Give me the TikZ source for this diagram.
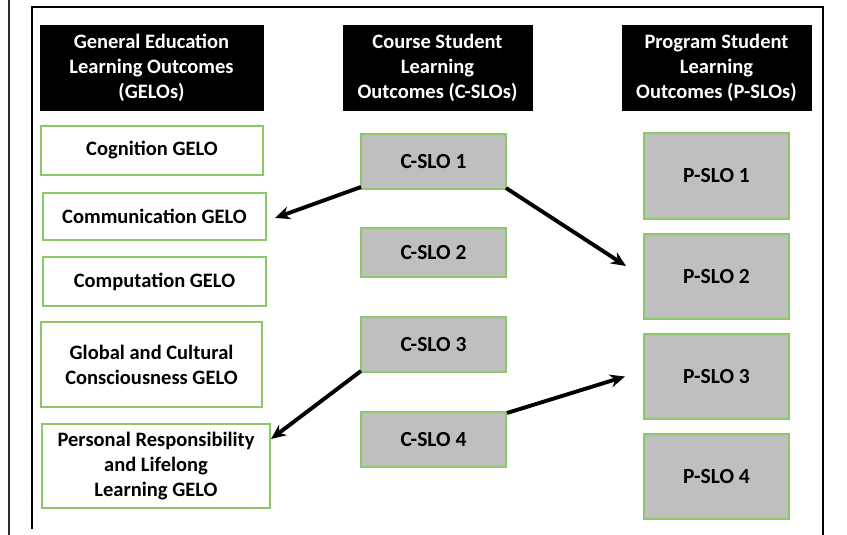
\documentclass[tikz,border=0pt]{standalone}
\usepackage{fontspec}
\setmainfont{Carlito}
\usetikzlibrary{arrows.meta,calc}

\definecolor{boxgreen}{RGB}{140,200,105}
\definecolor{slogray}{RGB}{191,191,191}
\definecolor{rulegray}{RGB}{45,45,45}

\tikzset{
  heading/.style={fill=black, draw=black, text=white, inner sep=0pt, outer sep=0pt,
    align=center, font=\fontsize{20.5}{25}\selectfont\bfseries},
  gelobox/.style={fill=white, draw=boxgreen, line width=1.4pt, inner sep=0pt, outer sep=0pt,
    align=center, font=\fontsize{20.5}{25}\selectfont\bfseries},
  slobox/.style={fill=slogray, draw=boxgreen, line width=1.4pt, inner sep=0pt, outer sep=0pt,
    align=center, font=\fontsize{21.5}{26}\selectfont\bfseries},
  link/.style={line width=3.9pt, -{Stealth[length=15pt,width=13pt]}},
}

\begin{document}
\begin{tikzpicture}[x=1pt, y=-1pt]
\useasboundingbox (0,0) rectangle (847,535);

% page rules
\draw[rulegray, line width=1.6pt] (9,0) -- (9,535);
\draw[black, line width=2pt] (32,529) -- (32,7) -- (823,7) -- (823,535);

% column headings
\node[heading, minimum width=223, minimum height=85] (hg) at (151.5,67.5)
  {General Education\\Learning Outcomes\\(GELOs)};
\node[heading, minimum width=189, minimum height=85] (hc) at (437.5,67.5)
  {Course Student\\Learning\\Outcomes (C-SLOs)};
\node[heading, minimum width=189, minimum height=85] (hp) at (716.5,67.5)
  {Program Student\\Learning\\Outcomes (P-SLOs)};

% general education outcomes
\node[gelobox, minimum width=222, minimum height=49] (g1) at (152,150.5) {Cognition GELO};
\node[gelobox, minimum width=223, minimum height=47] (g2) at (154.5,216.5) {Communication GELO};
\node[gelobox, minimum width=223, minimum height=49] (g3) at (154.5,281.5) {Computation GELO};
\node[gelobox, minimum width=221, minimum height=85] (g4) at (151.5,364.5)
  {Global and Cultural\\Consciousness GELO};
\node[gelobox, minimum width=228, minimum height=84] (g5) at (156,466)
  {Personal Responsibility\\and Lifelong\\Learning GELO};

% course outcomes
\node[slobox, minimum width=145, minimum height=55] (c1) at (433.5,161.5) {C-SLO 1};
\node[slobox, minimum width=145, minimum height=49] (c2) at (433.5,252.5) {C-SLO 2};
\node[slobox, minimum width=145, minimum height=55] (c3) at (433.5,344.5) {C-SLO 3};
\node[slobox, minimum width=145, minimum height=55] (c4) at (433.5,439.5) {C-SLO 4};

% program outcomes
\node[slobox, minimum width=145, minimum height=86] (p1) at (716.5,176) {P-SLO 1};
\node[slobox, minimum width=145, minimum height=85] (p2) at (716.5,276.5) {P-SLO 2};
\node[slobox, minimum width=145, minimum height=85] (p3) at (716.5,376.5) {P-SLO 3};
\node[slobox, minimum width=145, minimum height=85] (p4) at (716.5,476.5) {P-SLO 4};

% alignment arrows
\draw[link] ($(c1.south west)+(0,-2)$) -- ($(g2.east)+(9,1.5)$);
\draw[link] ($(c1.south east)+(0,-1)$) -- ($(p2.west)+(-18,-10.5)$);
\draw[link] ($(c3.south west)+(0,-1)$) -- ($(g5.north east)+(1,15)$);
\draw[link] ($(c4.north east)+(1,1)$) -- ($(p3.west)+(-19,0)$);
\end{tikzpicture}
\end{document}
